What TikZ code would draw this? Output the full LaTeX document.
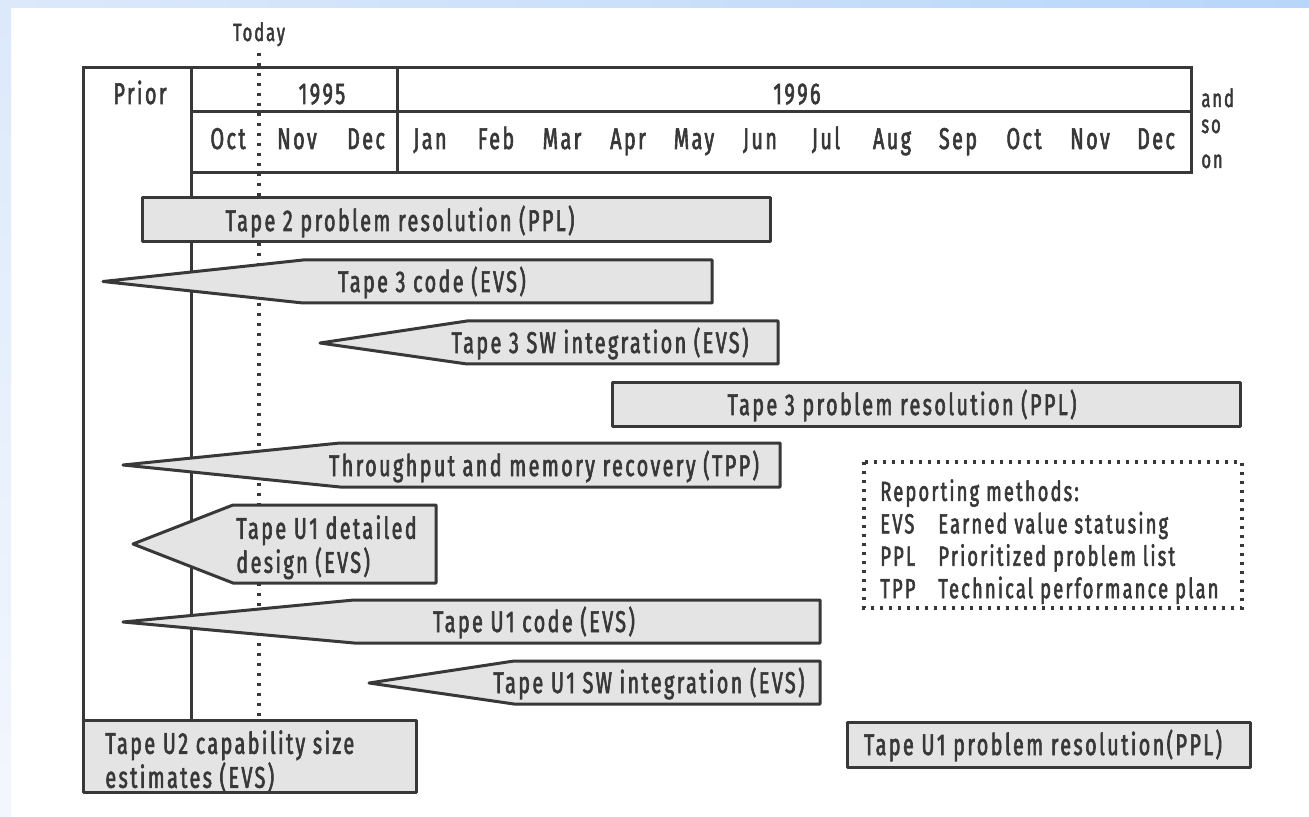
\documentclass[tikz,border=0pt]{standalone}
\usepackage{fontspec}
\setmainfont{Fira Sans}[FakeStretch=0.66,LetterSpace=8,FakeBold=2]
\usetikzlibrary{positioning}
\definecolor{barfill}{HTML}{E4E4E4}
\definecolor{ink}{HTML}{383838}
\definecolor{skyleft}{HTML}{DCE9FB}
\definecolor{skyright}{HTML}{B7D6FA}
\definecolor{skylow}{HTML}{F3F7FD}

\begin{document}
\begin{tikzpicture}[x=0.5pt,y=-0.5pt,
	frame/.style={draw=ink,line width=1.5pt},
	bar/.style={draw=ink,fill=barfill,line width=1.5pt,line join=round},
	todayline/.style={draw=ink,line width=1.7pt,dash pattern=on 1.6pt off 3.4pt},
	legendline/.style={draw=ink,line width=1.6pt,dash pattern=on 1.5pt off 3pt},
	lbl/.style={text=ink,font=\fontsize{15}{17}\selectfont,inner sep=0pt},
	small/.style={text=ink,font=\fontsize{12.5}{14}\selectfont,inner sep=0pt}]
	% background and page edges
	\useasboundingbox (0,0) rectangle (1309,817);
	\fill[white] (0,0) rectangle (1309,817);
	\shade[left color=skyleft,right color=skyright] (0,0) rectangle (1309,8);
	\shade[top color=skyleft,bottom color=skylow] (0,8) rectangle (11,817);
	% time scale
	\draw[frame] (83,720) -- (83,68) -- (1191,68) -- (1191,173) -- (191,173);
	\draw[frame] (191,720) -- (191,68);
	\draw[frame] (191,112) -- (1191,112);
	\draw[frame] (397,68) -- (397,173);
	\node[lbl,anchor=base] (prior) at (140,104) {Prior};
	\node[lbl,anchor=base] (y95) at (322,104) {1995};
	\node[lbl,anchor=base] (y96) at (797,104) {1996};
	\node[lbl,anchor=base] (oct95) at (228,149) {Oct};
	\node[lbl,anchor=base] (nov95) at (297,149) {Nov};
	\node[lbl,anchor=base] (dec95) at (366,149) {Dec};
	\foreach \m [count=\i] in {Jan,Feb,Mar,Apr,May,Jun,Jul,Aug,Sep,Oct,Nov,Dec}
		\node[lbl,anchor=base] (m96\i) at ({430+66*(\i-1)},149) {\m};
	\node[small,anchor=base west] (etc1) at (1201,107) {and};
	\node[small,anchor=base west] (etc2) at (1201,133) {so};
	\node[small,anchor=base west] (etc3) at (1201,168) {on};
	% today marker
	\node[small,anchor=base] (today) at (259,41) {Today};
	\coordinate (todayend) at (259,716);
	\draw[todayline] ([yshift=-3pt]today.south) -- (todayend);
	% activity bars
	\draw[bar] (142,198) rectangle (770,242);
	\node[lbl,anchor=base] (t2ppl) at (400,231) {Tape 2 problem resolution (PPL)};
	\draw[bar] (103,281.5) -- (303,260) -- (712,260) -- (712,303) -- (303,303) -- cycle;
	\node[lbl,anchor=base] (t3code) at (432,292) {Tape 3 code (EVS)};
	\draw[bar] (320,343) -- (467,321) -- (778,321) -- (778,364) -- (467,364) -- cycle;
	\node[lbl,anchor=base] (t3sw) at (600,353) {Tape 3 SW integration (EVS)};
	\draw[bar] (612,383) rectangle (1240,426);
	\node[lbl,anchor=base] (t3ppl) at (902,415) {Tape 3 problem resolution (PPL)};
	\draw[bar] (123,465) -- (340,443) -- (780,443) -- (780,487) -- (340,487) -- cycle;
	\node[lbl,anchor=base] (tpp) at (544,476) {Throughput and memory recovery (TPP)};
	\draw[bar] (133,544) -- (233,505) -- (436,505) -- (436,583) -- (233,583) -- cycle;
	\node[lbl,anchor=north west,align=left] (u1design) at (236,515) {Tape U1 detailed\\design (EVS)};
	\draw[bar] (123,622) -- (354,600) -- (820,600) -- (820,643) -- (354,643) -- cycle;
	\node[lbl,anchor=base] (u1code) at (534,632) {Tape U1 code (EVS)};
	\draw[bar] (369,683) -- (514,661) -- (820,661) -- (820,704) -- (514,704) -- cycle;
	\node[lbl,anchor=base] (u1sw) at (649,693) {Tape U1 SW integration (EVS)};
	\draw[bar] (83,720) rectangle (416,792);
	\node[lbl,anchor=north west,align=left] (u2size) at (105,730) {Tape U2 capability size\\estimates (EVS)};
	\draw[bar] (847,722) rectangle (1250,767);
	\node[lbl,anchor=base] (u1ppl) at (1043,755) {Tape U1 problem resolution(PPL)};
	% legend
	\draw[legendline] (864,462) rectangle (1242,608);
	\node[lbl,anchor=north west,align=left,font=\fontsize{13.8}{16.2}\selectfont] (legend) at (880,479)
		{Reporting methods:\\
		 \makebox[29pt][l]{EVS}Earned value statusing\\
		 \makebox[29pt][l]{PPL}Prioritized problem list\\
		 \makebox[29pt][l]{TPP}Technical performance plan};
\end{tikzpicture}
\end{document}
